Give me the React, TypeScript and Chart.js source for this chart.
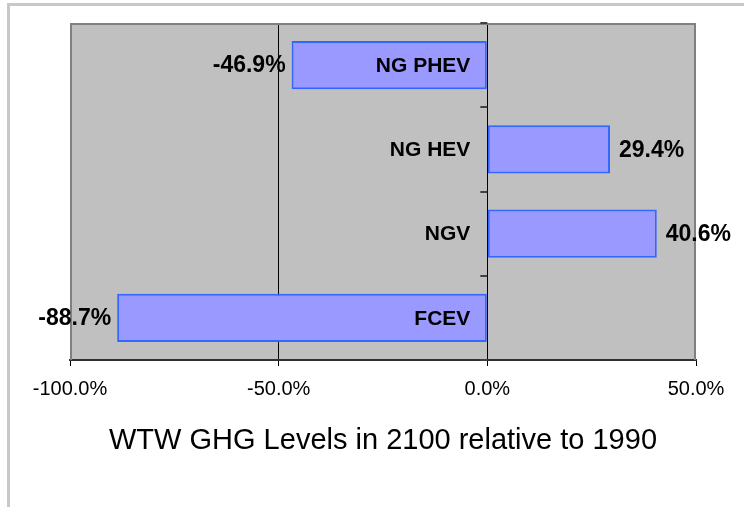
import React, { useEffect, useRef } from "react";
import { Chart, registerables } from "chart.js";

Chart.register(...registerables);

const categories = ["NG PHEV", "NG HEV", "NGV", "FCEV"];
const values = [-46.9, 29.4, 40.6, -88.7];
const xMin = -100;
const xMax = 50;
const xStep = 50;
const gridValues = [-50, 0];
const chartTitle = "WTW GHG Levels in 2100 relative to 1990";

const FONT = "'Liberation Sans', Arial, sans-serif";

const decorPlugin = {
  id: "decor",
  beforeDraw(chart: any) {
    const { ctx, chartArea: a } = chart;
    ctx.save();
    ctx.fillStyle = "#ffffff";
    ctx.fillRect(0, 0, chart.width, chart.height);
    ctx.fillStyle = "#c8c8c8";
    ctx.fillRect(7, 3, chart.width - 7, 3);
    ctx.fillRect(7, 3, 3, chart.height - 3);
    ctx.fillStyle = "#c0c0c0";
    ctx.fillRect(a.left, a.top, a.right - a.left, a.bottom - a.top);
    ctx.restore();
  },
  beforeDatasetsDraw(chart: any) {
    const { ctx, chartArea: a } = chart;
    ctx.save();
    ctx.strokeStyle = "#808080";
    ctx.lineWidth = 2;
    ctx.beginPath();
    ctx.moveTo(a.left + 1, a.bottom);
    ctx.lineTo(a.left + 1, a.top + 1);
    ctx.lineTo(a.right - 1, a.top + 1);
    ctx.lineTo(a.right - 1, a.bottom);
    ctx.stroke();
    ctx.restore();
  },
  afterDatasetsDraw(chart: any) {
    const { ctx } = chart;
    const xs = chart.scales.x;
    const ys = chart.scales.y;
    const zero = xs.getPixelForValue(0);
    ctx.save();
    ctx.strokeStyle = "#404040";
    ctx.lineWidth = 2;
    for (let i = 0; i <= categories.length; i++) {
      const y = Math.round(ys.getPixelForValue(i - 0.5));
      ctx.beginPath();
      ctx.moveTo(zero - 7, y);
      ctx.lineTo(zero, y);
      ctx.stroke();
    }
    const meta = chart.getDatasetMeta(0);
    ctx.fillStyle = "#000000";
    ctx.textBaseline = "middle";
    meta.data.forEach((bar: any, i: number) => {
      const v = values[i];
      ctx.font = `bold 23px ${FONT}`;
      const txt = v.toFixed(1) + "%";
      if (v < 0) {
        ctx.textAlign = "right";
        ctx.fillText(txt, bar.x - 6, bar.y + 1);
      } else {
        ctx.textAlign = "left";
        ctx.fillText(txt, bar.x + 9, bar.y + 1);
      }
      ctx.font = `bold 21px ${FONT}`;
      ctx.textAlign = "right";
      ctx.fillText(categories[i], zero - 17, bar.y + 1);
    });
    ctx.restore();
  },
  afterDraw(chart: any) {
    const { ctx, chartArea: a } = chart;
    ctx.save();
    ctx.fillStyle = "#000000";
    ctx.font = `29px ${FONT}`;
    ctx.textAlign = "center";
    ctx.textBaseline = "middle";
    ctx.fillText(chartTitle, (a.left + a.right) / 2, a.bottom + 81);
    ctx.restore();
  },
};

export default function App() {
  const ref = useRef<HTMLCanvasElement | null>(null);
  useEffect(() => {
    if (!ref.current) return;
    const chart = new Chart(ref.current, {
      type: "bar",
      data: {
        labels: categories,
        datasets: [
          {
            data: values,
            backgroundColor: "#9999ff",
            borderColor: "#3366ff",
            borderWidth: 2,
            borderSkipped: false,
            barPercentage: 0.571,
            categoryPercentage: 1,
          },
        ],
      },
      options: {
        indexAxis: "y",
        responsive: false,
        animation: false,
        events: [],
        layout: { padding: { left: 70, right: 48, top: 23, bottom: 0 } },
        plugins: {
          legend: { display: false },
          tooltip: { enabled: false },
          title: { display: false },
        },
        scales: {
          x: {
            type: "linear",
            min: xMin,
            max: xMax,
            afterFit: (scale: any) => {
              scale.height = 147;
            },
            ticks: {
              stepSize: xStep,
              color: "#000000",
              padding: 11,
              font: { family: FONT, size: 20 },
              callback: (v: any) => Number(v).toFixed(1) + "%",
            },
            grid: {
              color: (c: any) =>
                c.tick && gridValues.includes(c.tick.value) ? "#000000" : "rgba(0,0,0,0)",
              tickColor: "#000000",
              tickLength: 6,
              lineWidth: 1,
            },
            border: { display: true, color: "#303030", width: 2 },
          },
          y: {
            type: "category",
            display: false,
          },
        },
      },
      plugins: [decorPlugin],
    } as any);
    return () => chart.destroy();
  }, []);
  return (
    <div style={{ position: "absolute", left: 0, top: 0, width: 744, height: 507 }}>
      <canvas ref={ref} width={744} height={507} style={{ display: "block" }} />
    </div>
  );
}
